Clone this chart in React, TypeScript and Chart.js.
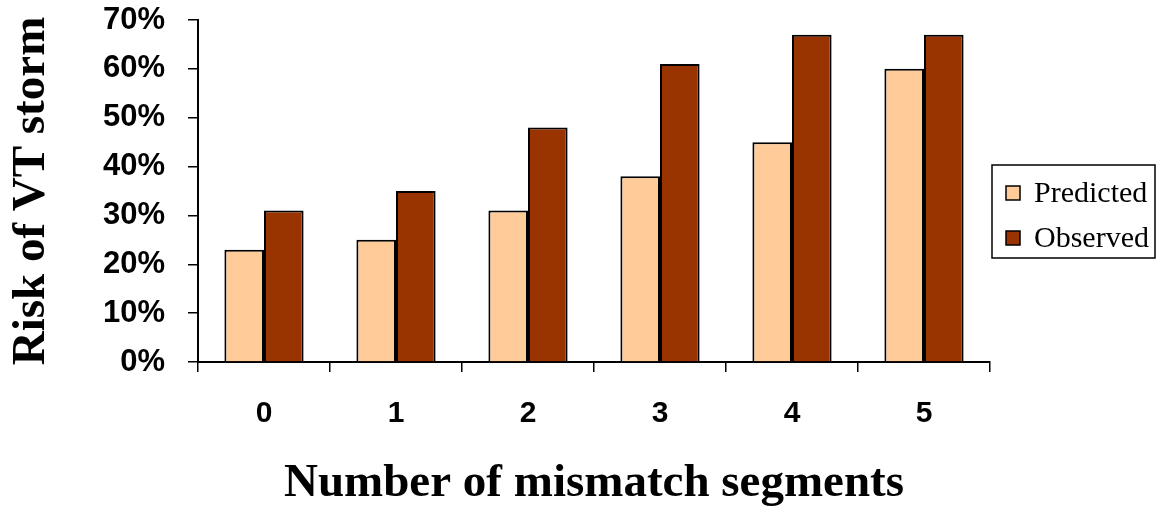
import React, { useEffect, useRef } from "react";
import { Chart, registerables } from "chart.js";

Chart.register(...registerables);

const categories = ["0", "1", "2", "3", "4", "5"];
const predicted = [23, 25, 31, 38, 45, 60];
const observed = [31, 35, 48, 61, 67, 67];
const yTickValues = [0, 10, 20, 30, 40, 50, 60, 70];
const seriesNames = ["Predicted", "Observed"];
const seriesColors = ["#FFCC99", "#993300"];
const xTitle = "Number of mismatch segments";
const yTitle = "Risk of VT storm";

const W = 1158;
const H = 509;

const legendBoxPlugin = {
  id: "legendBox",
  afterDraw(chart: any) {
    const ctx = chart.ctx;
    const left = chart.chartArea.right + 2;
    const top = 165;
    const width = W - 3 - left;
    const height = 93;
    ctx.save();
    ctx.strokeStyle = "#000";
    ctx.lineWidth = 1.5;
    ctx.strokeRect(left, top, width, height);
    ctx.font = "30px 'Liberation Serif', 'Times New Roman', serif";
    ctx.textBaseline = "middle";
    ctx.textAlign = "left";
    chart.data.datasets.forEach((ds: any, i: number) => {
      const cy = top + 28 + i * 45;
      ctx.fillStyle = ds.backgroundColor;
      ctx.fillRect(left + 14, cy - 7, 14, 14);
      ctx.strokeStyle = "#000";
      ctx.lineWidth = 1.5;
      ctx.strokeRect(left + 14, cy - 7, 14, 14);
      ctx.fillStyle = "#000";
      ctx.fillText(ds.label, left + 42, cy + 1);
    });
    ctx.restore();
  },
};

export default function App() {
  const ref = useRef<HTMLCanvasElement | null>(null);

  useEffect(() => {
    if (!ref.current) return;
    const chart = new Chart(ref.current, {
      type: "bar",
      data: {
        labels: categories,
        datasets: [
          {
            label: seriesNames[0],
            data: predicted,
            backgroundColor: seriesColors[0],
            borderColor: "#000",
            borderWidth: 2,
            categoryPercentage: 0.6,
            barPercentage: 1.0,
          },
          {
            label: seriesNames[1],
            data: observed,
            backgroundColor: seriesColors[1],
            borderColor: "#000",
            borderWidth: 2,
            categoryPercentage: 0.6,
            barPercentage: 1.0,
          },
        ],
      },
      options: {
        responsive: false,
        animation: false,
        layout: { padding: { left: 0, right: W - 990, top: 0, bottom: 0 } },
        plugins: {
          legend: { display: false },
          tooltip: { enabled: false },
        },
        scales: {
          x: {
            grid: {
              display: true,
              drawOnChartArea: false,
              drawTicks: true,
              tickLength: 10,
              color: "#000",
              lineWidth: 1.5,
              offset: true,
            },
            border: { display: true, color: "#000", width: 2 },
            ticks: {
              color: "#000",
              padding: 24,
              font: { family: "'Liberation Sans', Arial, sans-serif", size: 30, weight: "bold" },
            },
            title: {
              display: true,
              text: xTitle,
              color: "#000",
              padding: { top: 20, bottom: -3 },
              font: { family: "'Liberation Serif', 'Times New Roman', serif", size: 47, weight: "bold" },
            },
            afterFit: (scale: any) => {
              scale.height = H - 362;
            },
          },
          y: {
            min: 0,
            max: 70,
            afterBuildTicks: (scale: any) => {
              scale.ticks = yTickValues.map((v) => ({ value: v }));
            },
            grid: {
              display: true,
              drawOnChartArea: false,
              drawTicks: true,
              tickLength: 10,
              color: "#000",
              lineWidth: 1.5,
            },
            border: { display: true, color: "#000", width: 2 },
            ticks: {
              color: "#000",
              padding: 23,
              callback: (v: any) => v + "%",
              font: { family: "'Liberation Sans', Arial, sans-serif", size: 31, weight: "bold" },
            },
            title: {
              display: true,
              text: yTitle,
              color: "#000",
              padding: { top: 4, bottom: 10 },
              font: { family: "'Liberation Serif', 'Times New Roman', serif", size: 47, weight: "bold" },
            },
            afterFit: (scale: any) => {
              scale.width = 198;
              scale.paddingTop = 20;
              scale.paddingBottom = 0;
            },
          },
        },
      },
      plugins: [legendBoxPlugin],
    });
    return () => chart.destroy();
  }, []);

  return (
    <div style={{ position: "fixed", left: 0, top: 0, width: W, height: H, background: "#fff" }}>
      <canvas ref={ref} width={W} height={H} style={{ display: "block" }} />
    </div>
  );
}
